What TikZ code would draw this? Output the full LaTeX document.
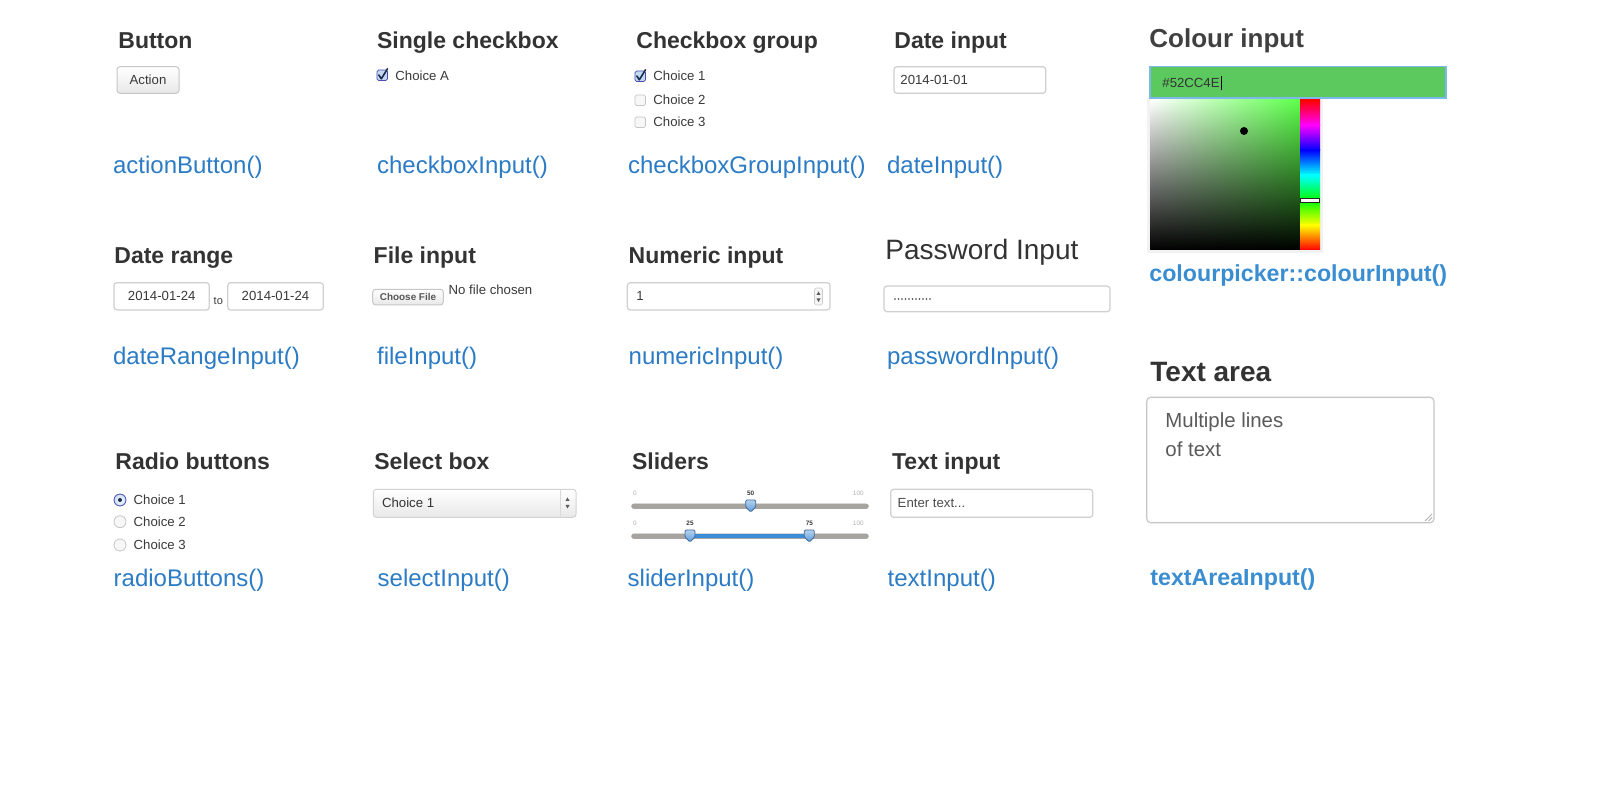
\documentclass[tikz,border=0pt]{standalone}
\usepackage{fontspec}
\setmainfont{Liberation Sans}
\usetikzlibrary{fadings}
\definecolor{hd}{HTML}{333333}
\definecolor{hd2}{HTML}{404040}
\definecolor{fnblue}{HTML}{2B7BC5}
\definecolor{fnbold}{HTML}{3A8DD0}
\definecolor{txt}{HTML}{3A3A3A}
\definecolor{areatxt}{HTML}{5A5A5A}
\definecolor{bord}{HTML}{CFCFCF}
\definecolor{pickgreen}{HTML}{5CFF4A}
\definecolor{inputgreen}{HTML}{5CC95E}
\definecolor{focus}{HTML}{7DB8EA}
\definecolor{track}{HTML}{A7A39E}
\definecolor{handle}{HTML}{5C9BDB}
\definecolor{rangeblue}{HTML}{3C8DD8}
\definecolor{chkfill}{HTML}{C3D9F0}
\definecolor{navy}{HTML}{1B2B4D}
\tikzset{
  head/.style={font=\fontsize{11.5}{13}\selectfont\bfseries, text=hd, anchor=base west, inner sep=0pt},
  fn/.style={font=\fontsize{12}{14}\selectfont, text=fnblue, anchor=base west, inner sep=0pt},
  fnb/.style={font=\fontsize{11.6}{14}\selectfont\bfseries, text=fnbold, anchor=base west, inner sep=0pt},
  small/.style={font=\fontsize{6.6}{8}\selectfont, text=txt, anchor=base west, inner sep=0pt},
  field/.style={draw=bord, fill=white, line width=0.6pt, rounded corners=1.5pt},
  btnbox/.style={draw=gray!45, top color=white, bottom color=gray!18, line width=0.5pt, rounded corners=1.5pt},
  cbox/.style={draw=gray!45, fill=gray!6, line width=0.4pt, rounded corners=0.8pt},
  cboxon/.style={draw=gray!60!blue, fill=chkfill, line width=0.4pt, rounded corners=0.8pt},
  tickmark/.style={draw=navy, line width=0.8pt, line cap=round, line join=round},
  radio/.style={draw=gray!45, fill=gray!6, line width=0.4pt},
  radioon/.style={draw=gray!60!blue, inner color=white, outer color=chkfill, line width=0.4pt},
  tracksty/.style={draw=gray!70, fill=track, line width=0.3pt, rounded corners=1pt},
  handlesty/.style={draw=handle!70!black, top color=handle!45!white, bottom color=handle, line width=0.4pt, rounded corners=0.6pt},
  tinylab/.style={font=\fontsize{3.2}{4}\selectfont, text=gray!60, anchor=base, inner sep=0pt},
  tinybold/.style={font=\fontsize{3.2}{4}\selectfont\bfseries, text=txt, anchor=base, inner sep=0pt},
  sliderhandle/.pic={\path[handlesty] (-5,-6) -- (5,-6) -- (5,1) -- (0,6) -- (-5,1) -- cycle;}
}
\begin{document}
\begin{tikzpicture}[x=0.5pt,y=-0.5pt]
\fill[white] (0,0) rectangle (1600,790);
\path[use as bounding box] (0,0) rectangle (1600,790);

% ---------- Row 1 ----------
\node[head] (hButton) at (118,48.3) {Button};
\draw[btnbox] (117,66.7) rectangle (179,93.3);
\node[small, anchor=base] (tAction) at (148,84.7) {Action};
\node[fn] (fAction) at (112.7,173.5) {actionButton()};

\node[head] (hSingle) at (376.7,48.3) {Single checkbox};
\draw[cboxon] (377,70) rectangle (387.5,80.5);
\draw[tickmark] (378.8,75) -- (381.3,78.8) -- (387.5,68.8);
\node[small] (tChoiceA) at (395,80.7) {Choice A};
\node[fn] (fCheckbox) at (376.7,173.5) {checkboxInput()};

\node[head] (hGroup) at (636,48.3) {Checkbox group};
\draw[cboxon] (635,71) rectangle (645.5,81.5);
\draw[tickmark] (636.8,76) -- (639.3,79.8) -- (645.5,69.8);
\draw[cbox] (635,95) rectangle (645.5,105.5);
\draw[cbox] (635,117) rectangle (645.5,127.5);
\node[small] (tG1) at (653,80.7) {Choice 1};
\node[small] (tG2) at (653,104.7) {Choice 2};
\node[small] (tG3) at (653,126.7) {Choice 3};
\node[fn] (fGroup) at (627.7,173.5) {checkboxGroupInput()};

\node[head] (hDate) at (894,48.3) {Date input};
\draw[field] (894,66.7) rectangle (1045.7,93.3);
\node[small] (tDate) at (900,84.7) {2014-01-01};
\node[fn] (fDate) at (886.7,173.5) {dateInput()};

\node[head, font=\fontsize{13}{15}\selectfont\bfseries, text=hd2] (hColour) at (1149,47.3) {Colour input};
\fill[gray!10] (1147,98.5) rectangle (1323,253);
\draw[draw=focus, fill=inputgreen, line width=0.8pt] (1150,66.7) rectangle (1446,98.3);
\node[small, text=black!80] (tHex) at (1162,87.5) {\#52CC4E};
\draw[black, line width=0.4pt] (tHex.base east) ++(1,3) -- ++(0,-14);
\shade[left color=white, right color=pickgreen] (1150,100) rectangle (1300,250);
\fill[black, path fading=north] (1150,100) rectangle (1300,250);
\shade[top color=red, bottom color=magenta] (1300,100) rectangle (1320,125.2);
\shade[top color=magenta, bottom color=blue] (1300,125) rectangle (1320,150.2);
\shade[top color=blue, bottom color=cyan] (1300,150) rectangle (1320,175.2);
\shade[top color=cyan, bottom color=green] (1300,175) rectangle (1320,200.2);
\shade[top color=green, bottom color=yellow] (1300,200) rectangle (1320,225.2);
\shade[top color=yellow, bottom color=red] (1300,225) rectangle (1320,250);
\draw[fill=white, draw=gray!30!black, line width=0.3pt] (1300.5,198.5) rectangle (1319.5,202);
\fill[black] (1244,131) circle (2pt);
\node[fnb] (fColour) at (1149,282) {colourpicker::colourInput()};

% ---------- Row 2 ----------
\node[head] (hRange) at (114,263.3) {Date range};
\draw[field] (114,282.7) rectangle (209.3,310);
\node[small, anchor=base] (tR1) at (161.7,301) {2014-01-24};
\node[small, font=\fontsize{5.5}{7}\selectfont] (tTo) at (213.3,305) {to};
\draw[field] (227.7,282.7) rectangle (323.3,310);
\node[small, anchor=base] (tR2) at (275.5,301) {2014-01-24};
\node[fn] (fRange) at (112.7,365) {dateRangeInput()};

\node[head] (hFile) at (373.3,263.3) {File input};
\draw[btnbox] (372.7,289.3) rectangle (443.3,305);
\node[small, anchor=base, font=\fontsize{4.95}{6}\selectfont\bfseries, text=txt!85] (tChoose) at (408,300.5) {Choose File};
\node[small] (tNoFile) at (448.3,295) {No file chosen};
\node[fn] (fFile) at (376.7,365) {fileInput()};

\node[head] (hNum) at (628.3,263.3) {Numeric input};
\draw[field] (627.3,282.7) rectangle (830,310);
\node[small] (tOne) at (636,301) {1};
\draw[draw=gray!40, fill=gray!8, rounded corners=1pt, line width=0.3pt] (814.5,288) rectangle (822.5,305);
\fill[gray!70!black] (816.5,295) -- (820.5,295) -- (818.5,291.5) -- cycle;
\fill[gray!70!black] (816.5,298.5) -- (820.5,298.5) -- (818.5,302) -- cycle;
\node[fn] (fNum) at (628.3,365) {numericInput()};

\node[head, font=\fontsize{14}{16}\selectfont] (hPass) at (885,260) {Password Input};
\draw[field] (884,286) rectangle (1110,311.7);
\foreach \i in {0,...,10} \fill[txt] (895+3.5*\i,299) circle (0.45pt);
\node[fn] (fPass) at (886.7,365) {passwordInput()};

\node[head, font=\fontsize{14}{16}\selectfont\bfseries] (hArea) at (1150,381.7) {Text area};
\draw[draw=gray!45, fill=white, line width=0.6pt, rounded corners=2pt] (1146.7,397.3) rectangle (1434,522.7);
\node[small, font=\fontsize{10.2}{14}\selectfont, text=areatxt] (tArea1) at (1165,428) {Multiple lines};
\node[small, font=\fontsize{10.2}{14}\selectfont, text=areatxt] (tArea2) at (1165,457) {of text};
\draw[gray!60, line width=0.4pt] (1425,521) -- (1432,514) (1428.5,521) -- (1432,517.5);
\node[fnb] (fArea) at (1150,585) {textAreaInput()};

% ---------- Row 3 ----------
\node[head] (hRadio) at (115,470) {Radio buttons};
\shade[radioon] (120,500) circle (3pt);
\fill[navy] (120,500) circle (1pt);
\draw[radio] (120,521.7) circle (3pt);
\draw[radio] (120,545) circle (3pt);
\node[small] (tRa1) at (133.3,504.7) {Choice 1};
\node[small] (tRa2) at (133.3,526.4) {Choice 2};
\node[small] (tRa3) at (133.3,549.7) {Choice 3};
\node[fn] (fRadio) at (113.3,586.5) {radioButtons()};

\node[head] (hSelect) at (374,470) {Select box};
\draw[btnbox, draw=gray!35] (373.3,489.3) rectangle (576,517.3);
\draw[gray!30, line width=0.4pt] (560,490) -- (560,516.5);
\fill[gray!70!black] (565.5,501) -- (569.5,501) -- (567.5,497.5) -- cycle;
\fill[gray!70!black] (565.5,505) -- (569.5,505) -- (567.5,508.5) -- cycle;
\node[small, text=gray!40!black] (tSel) at (381.7,507.4) {Choice 1};
\node[fn] (fSelect) at (377.3,586.5) {selectInput()};

\node[head] (hSlider) at (631.7,470) {Sliders};
\draw[tracksty] (631.7,504) rectangle (868.3,508.5);
\node[tinylab] (s1a) at (635,496) {0};
\node[tinybold] (s1b) at (750.7,496) {50};
\node[tinylab] (s1c) at (858.3,496) {100};
\pic at (750.7,506) {sliderhandle};
\draw[tracksty] (631.7,534) rectangle (868.3,538.5);
\fill[rangeblue] (690,534.2) rectangle (809.3,538.3);
\node[tinylab] (s2a) at (635,526) {0};
\node[tinybold] (s2b) at (690,526) {25};
\node[tinybold] (s2c) at (809.3,526) {75};
\node[tinylab] (s2d) at (858.3,526) {100};
\pic at (690,536) {sliderhandle};
\pic at (809.3,536) {sliderhandle};
\node[fn] (fSlider) at (627.3,586.5) {sliderInput()};

\node[head] (hText) at (891.7,470) {Text input};
\draw[field] (890.7,489.3) rectangle (1092.7,517.3);
\node[small, text=gray!60!black] (tEnter) at (897.3,507.4) {Enter text...};
\node[fn] (fText) at (887.3,586.5) {textInput()};
\end{tikzpicture}
\end{document}
